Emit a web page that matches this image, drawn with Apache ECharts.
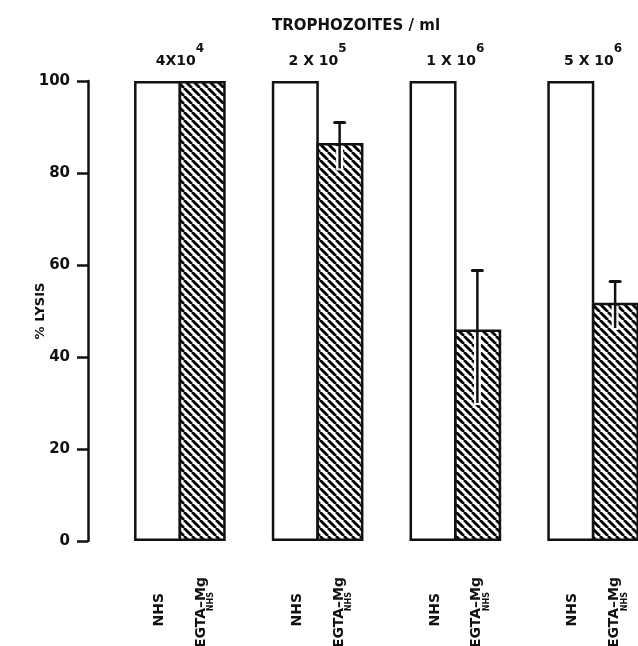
<!DOCTYPE html>
<html><head><meta charset="utf-8">
<style>html,body{margin:0;padding:0;background:#fff}#c{width:638px;height:646px}</style>
<script src="https://cdn.jsdelivr.net/npm/echarts@6/dist/echarts.min.js"></script>
</head><body><div id="c"></div><script>
// ---- data ----
const densities = ['4X10^4', '2 X 10^5', '1 X 10^6', '5 X 10^6'];
const nhsLysis = [100, 100, 100, 100];
const egtaLysis = [100, 86.5, 46, 51.8];
const egtaErrLow = [null, 81, 30, 46.3];
const egtaErrHigh = [null, 91, 58.8, 56.4];
const yTicks = [0, 20, 40, 60, 80, 100];
const titleText = 'TROPHOZOITES / ml';
const yName = '% LYSIS';
const nhsLabel = 'NHS';
const egtaLabel = 'EGTA–Mg';
const egtaSub = 'NHS';

function hatch() {
  const s = 8;
  const c = document.createElement('canvas');
  c.width = s; c.height = s;
  const g = c.getContext('2d');
  g.fillStyle = '#fff'; g.fillRect(0, 0, s, s);
  g.strokeStyle = '#000'; g.lineWidth = 2.8;
  for (const k of [-1, 0, 1]) {
    g.beginPath(); g.moveTo(k * s, 0); g.lineTo(k * s + s, s); g.stroke();
  }
  return c;
}

const errData = [];
densities.forEach((d, i) => {
  if (egtaErrLow[i] != null) errData.push([i, egtaLysis[i], egtaErrLow[i], egtaErrHigh[i]]);
});

const BOLD = 'DejaVu Sans';
const chart = echarts.init(document.getElementById('c'), null, {renderer: 'canvas'});
chart.setOption({
  backgroundColor: '#fff',
  animation: false,
  title: {
    text: titleText, left: 267, top: 14,
    textStyle: {fontFamily: BOLD, fontWeight: 'bold', fontSize: 15, color: '#111'}
  },
  grid: {left: 111, top: 81, bottom: 105, width: 551, containLabel: false, outerBoundsMode: 'none'},
  xAxis: [{
    type: 'category', data: densities, position: 'bottom',
    axisLine: {show: false}, axisTick: {show: false}, axisLabel: {show: false}
  }, {
    type: 'category', data: densities, position: 'top',
    axisLine: {show: false}, axisTick: {show: false},
    axisLabel: {
      margin: 12, color: '#111',
      formatter: v => { const p = v.split('^'); return '{m|' + p[0] + '}{s|' + p[1] + '}'; },
      rich: {
        m: {fontFamily: BOLD, fontWeight: 'bold', fontSize: 14, lineHeight: 16, color: '#111'},
        s: {fontFamily: BOLD, fontWeight: 'bold', fontSize: 12, lineHeight: 12, color: '#111', padding: [0, 0, 24, 0]}
      }
    }
  }],
  yAxis: {
    type: 'value', min: yTicks[0], max: yTicks[yTicks.length - 1], interval: 20,
    offset: 23,
    name: yName, nameLocation: 'middle', nameRotate: 90, nameGap: 41, nameMoveOverlap: false,
    nameTextStyle: {fontFamily: BOLD, fontWeight: 'bold', fontSize: 13, color: '#111'},
    axisLine: {show: true, lineStyle: {color: '#111', width: 2.5}},
    axisTick: {show: true, length: 11, lineStyle: {color: '#111', width: 2.5}},
    axisLabel: {margin: 18, fontFamily: BOLD, fontWeight: 'bold', fontSize: 15, color: '#111'},
    splitLine: {show: false}
  },
  series: [{
    type: 'bar', name: 'NHS', data: nhsLysis, xAxisIndex: 0,
    barWidth: 47, barGap: '-5%',
    itemStyle: {color: '#fff', borderColor: '#111', borderWidth: 2.5},
    label: {
      show: true, position: 'bottom', distance: 52, rotate: 90,
      align: 'right', verticalAlign: 'middle', offset: [0, 2],
      formatter: nhsLabel,
      fontFamily: BOLD, fontWeight: 'bold', fontSize: 14, color: '#111'
    }
  }, {
    type: 'bar', name: 'EGTA-Mg NHS', data: egtaLysis, xAxisIndex: 0,
    barWidth: 47, barGap: '-5%',
    itemStyle: {color: {image: hatch(), repeat: 'repeat'}, borderColor: '#111', borderWidth: 2.5},
    label: {
      show: true, position: 'bottom', distance: 36, rotate: 90,
      align: 'right', verticalAlign: 'middle', offset: [0, 3],
      formatter: '{a|' + egtaLabel + '}\n{b|' + egtaSub + '}',
      rich: {
        a: {fontFamily: BOLD, fontWeight: 'bold', fontSize: 14, lineHeight: 12, color: '#111'},
        b: {fontFamily: BOLD, fontWeight: 'bold', fontSize: 8, lineHeight: 8, color: '#111', padding: [0, 15, 0, 0]}
      }
    }
  }, {
    type: 'custom', xAxisIndex: 0, z: 5, data: errData,
    renderItem: (params, api) => {
      const i = api.value(0);
      const pTop = api.coord([i, api.value(3)]);
      const pLo = api.coord([i, api.value(2)]);
      const pV = api.coord([i, api.value(1)]);
      const x = pTop[0] + 22;
      return {
        type: 'group', children: [
          {type: 'line', shape: {x1: x, y1: pLo[1] + 2, x2: x, y2: pV[1] + 3}, style: {stroke: '#fff', lineWidth: 7}},
          {type: 'line', shape: {x1: x, y1: pLo[1], x2: x, y2: pTop[1]}, style: {stroke: '#111', lineWidth: 2.5}},
          {type: 'line', shape: {x1: x - 5, y1: pTop[1], x2: x + 5, y2: pTop[1]}, style: {stroke: '#111', lineWidth: 3, lineCap: 'round'}}
        ]
      };
    }
  }]
});
</script></body></html>
